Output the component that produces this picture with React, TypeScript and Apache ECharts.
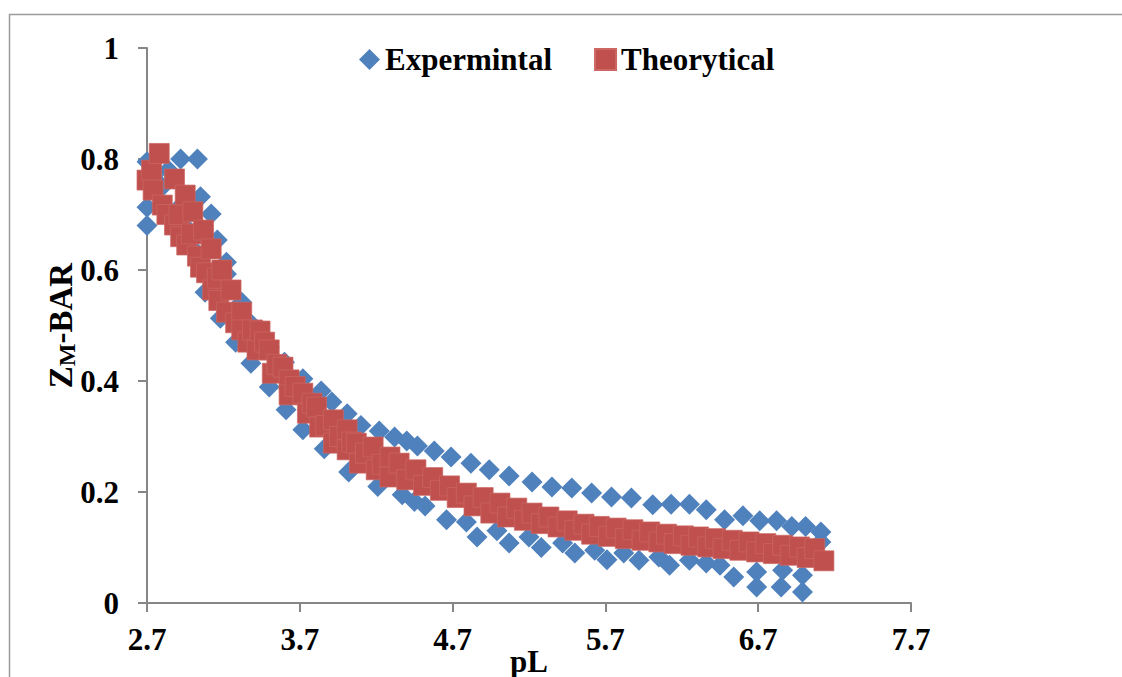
import React, { useEffect, useRef } from "react";
import * as echarts from "echarts";

const xTicks = [2.7, 3.7, 4.7, 5.7, 6.7, 7.7];
const yMin = 0;
const yMax = 1;
const yStep = 0.2;

const experimental: [number, number][] = [
  [2.70, 0.795], [2.70, 0.713], [2.70, 0.680], [2.74, 0.770], [2.80, 0.750], [2.84, 0.780],
  [2.90, 0.710], [2.92, 0.800], [2.98, 0.670], [3.03, 0.800], [3.03, 0.630], [3.05, 0.732],
  [3.08, 0.560], [3.12, 0.701], [3.16, 0.654], [3.18, 0.513], [3.22, 0.614], [3.22, 0.593],
  [3.28, 0.470], [3.32, 0.542], [3.37, 0.506], [3.38, 0.432], [3.50, 0.461], [3.50, 0.389],
  [3.60, 0.434], [3.61, 0.348], [3.72, 0.404], [3.72, 0.312], [3.84, 0.382], [3.86, 0.278],
  [3.91, 0.362], [4.01, 0.341], [4.02, 0.236], [4.10, 0.320], [4.21, 0.210], [4.22, 0.310],
  [4.32, 0.299], [4.37, 0.195], [4.40, 0.292], [4.45, 0.183], [4.47, 0.283], [4.52, 0.175],
  [4.58, 0.274], [4.66, 0.150], [4.69, 0.263], [4.79, 0.146], [4.82, 0.252], [4.86, 0.119],
  [4.94, 0.240], [4.99, 0.130], [5.07, 0.229], [5.07, 0.108], [5.20, 0.119], [5.22, 0.218],
  [5.28, 0.100], [5.35, 0.209], [5.42, 0.108], [5.48, 0.207], [5.50, 0.090], [5.61, 0.198],
  [5.63, 0.095], [5.71, 0.078], [5.74, 0.191], [5.82, 0.090], [5.87, 0.189], [5.92, 0.077],
  [6.01, 0.177], [6.05, 0.083], [6.12, 0.068], [6.13, 0.178], [6.25, 0.178], [6.25, 0.077],
  [6.36, 0.168], [6.36, 0.072], [6.45, 0.068], [6.48, 0.150], [6.54, 0.047], [6.60, 0.157],
  [6.69, 0.056], [6.69, 0.029], [6.71, 0.148], [6.82, 0.148], [6.85, 0.029], [6.86, 0.059],
  [6.92, 0.138], [6.99, 0.050], [6.99, 0.020], [7.01, 0.138], [7.11, 0.128], [7.11, 0.110],
];

const theoretical: [number, number][] = [
  [2.70, 0.762], [2.73, 0.780], [2.74, 0.744], [2.78, 0.810], [2.80, 0.717], [2.83, 0.700],
  [2.88, 0.764], [2.88, 0.681], [2.91, 0.700], [2.92, 0.660], [2.95, 0.735], [2.96, 0.645],
  [2.99, 0.665], [3.00, 0.705], [3.03, 0.625], [3.05, 0.605], [3.07, 0.672], [3.09, 0.595],
  [3.12, 0.638], [3.13, 0.564], [3.16, 0.585], [3.17, 0.545], [3.19, 0.600], [3.22, 0.524],
  [3.25, 0.564], [3.28, 0.505], [3.32, 0.524], [3.32, 0.492], [3.36, 0.470], [3.39, 0.492],
  [3.42, 0.456], [3.44, 0.490], [3.47, 0.470], [3.50, 0.456], [3.52, 0.414], [3.55, 0.430],
  [3.59, 0.425], [3.63, 0.402], [3.63, 0.375], [3.67, 0.390], [3.72, 0.378], [3.75, 0.342],
  [3.78, 0.360], [3.81, 0.353], [3.83, 0.317], [3.87, 0.320], [3.92, 0.330], [3.92, 0.288],
  [3.96, 0.300], [4.01, 0.312], [4.01, 0.276], [4.04, 0.290], [4.07, 0.288], [4.09, 0.252],
  [4.13, 0.270], [4.18, 0.281], [4.20, 0.240], [4.24, 0.250], [4.29, 0.263], [4.29, 0.227],
  [4.35, 0.252], [4.40, 0.222], [4.46, 0.240], [4.51, 0.212], [4.57, 0.226], [4.62, 0.203],
  [4.68, 0.211], [4.73, 0.190], [4.79, 0.198], [4.84, 0.175], [4.90, 0.190], [4.95, 0.162],
  [5.01, 0.180], [5.06, 0.155], [5.12, 0.171], [5.17, 0.149], [5.22, 0.162], [5.28, 0.143],
  [5.33, 0.155], [5.39, 0.137], [5.45, 0.148], [5.50, 0.131], [5.56, 0.142], [5.61, 0.124],
  [5.66, 0.138], [5.72, 0.120], [5.77, 0.135], [5.83, 0.116], [5.88, 0.132], [5.94, 0.113],
  [5.99, 0.128], [6.05, 0.110], [6.10, 0.124], [6.15, 0.107], [6.21, 0.121], [6.26, 0.104],
  [6.31, 0.119], [6.37, 0.101], [6.42, 0.116], [6.47, 0.098], [6.53, 0.113], [6.58, 0.095],
  [6.64, 0.110], [6.69, 0.092], [6.75, 0.107], [6.80, 0.089], [6.86, 0.104], [6.91, 0.086],
  [6.97, 0.101], [7.02, 0.082], [7.07, 0.098], [7.13, 0.076],
];

const FONT = "'Liberation Serif', 'Times New Roman', serif";
const AXIS_COLOR = "#868686";

export default function App() {
  const ref = useRef<HTMLDivElement>(null);

  useEffect(() => {
    const chart = echarts.init(ref.current!, null, { renderer: "svg" });
    const labelStyle = {
      fontFamily: FONT,
      fontWeight: "bold" as const,
      fontSize: 31,
      color: "#000",
    };
    chart.setOption({
      animation: false,
      backgroundColor: "#fff",
      graphic: [
        {
          type: "rect",
          shape: { x: 9.5, y: 14.5, width: 1200, height: 800 },
          style: { fill: "none", stroke: "#9a9a9a", lineWidth: 1.5 },
          silent: true,
          z: -1,
        },
      ],
      legend: {
        left: 354,
        top: 39,
        itemWidth: 21,
        itemHeight: 21,
        itemGap: 42,
        textStyle: { ...labelStyle },
        data: [
          { name: "Expermintal", icon: "diamond" },
          { name: "Theorytical", icon: "rect" },
        ],
      },
      grid: {
        left: 147,
        right: 211,
        top: 48,
        bottom: 74,
        containLabel: false,
        outerBoundsMode: "none",
      },
      xAxis: {
        type: "value",
        min: xTicks[0],
        max: xTicks[xTicks.length - 1],
        splitLine: { show: false },
        axisLine: { show: true, lineStyle: { color: AXIS_COLOR, width: 2 } },
        axisTick: {
          show: true,
          customValues: xTicks,
          length: 9,
          lineStyle: { color: AXIS_COLOR, width: 2 },
        },
        axisLabel: {
          customValues: xTicks,
          margin: 21,
          ...labelStyle,
          formatter: (v: number) => v.toFixed(1),
        },
        name: "pL",
        nameLocation: "middle",
        nameGap: 43,
        nameMoveOverlap: false,
        nameTextStyle: { ...labelStyle },
      },
      yAxis: {
        type: "value",
        min: yMin,
        max: yMax,
        interval: yStep,
        splitLine: { show: false },
        axisLine: { show: true, lineStyle: { color: AXIS_COLOR, width: 2 } },
        axisTick: { show: true, length: 9, lineStyle: { color: AXIS_COLOR, width: 2 } },
        axisLabel: {
          margin: 28,
          ...labelStyle,
          formatter: (v: number) => String(+v.toFixed(1)),
        },
        name: "{a|Z}{b|M}{a|-BAR}",
        nameLocation: "middle",
        nameRotate: 90,
        nameGap: 68,
        nameMoveOverlap: false,
        nameTextStyle: {
          rich: {
            a: { ...labelStyle, fontSize: 33, lineHeight: 36 },
            b: { ...labelStyle, fontSize: 24, lineHeight: 24, verticalAlign: "bottom" },
          },
        },
      },
      series: [
        {
          type: "scatter",
          name: "Expermintal",
          symbol: "diamond",
          symbolSize: 21,
          data: experimental,
          itemStyle: { color: "#4F81BD", opacity: 1 },
        },
        {
          type: "scatter",
          name: "Theorytical",
          symbol: "rect",
          symbolSize: 20,
          data: theoretical,
          itemStyle: { color: "#C0504D", opacity: 1, borderColor: "#cc6764", borderWidth: 0.7 },
        },
      ],
    });
    return () => chart.dispose();
  }, []);

  return (
    <div
      ref={ref}
      style={{ position: "fixed", left: 0, top: 0, width: 1122, height: 677, background: "#fff" }}
    />
  );
}
